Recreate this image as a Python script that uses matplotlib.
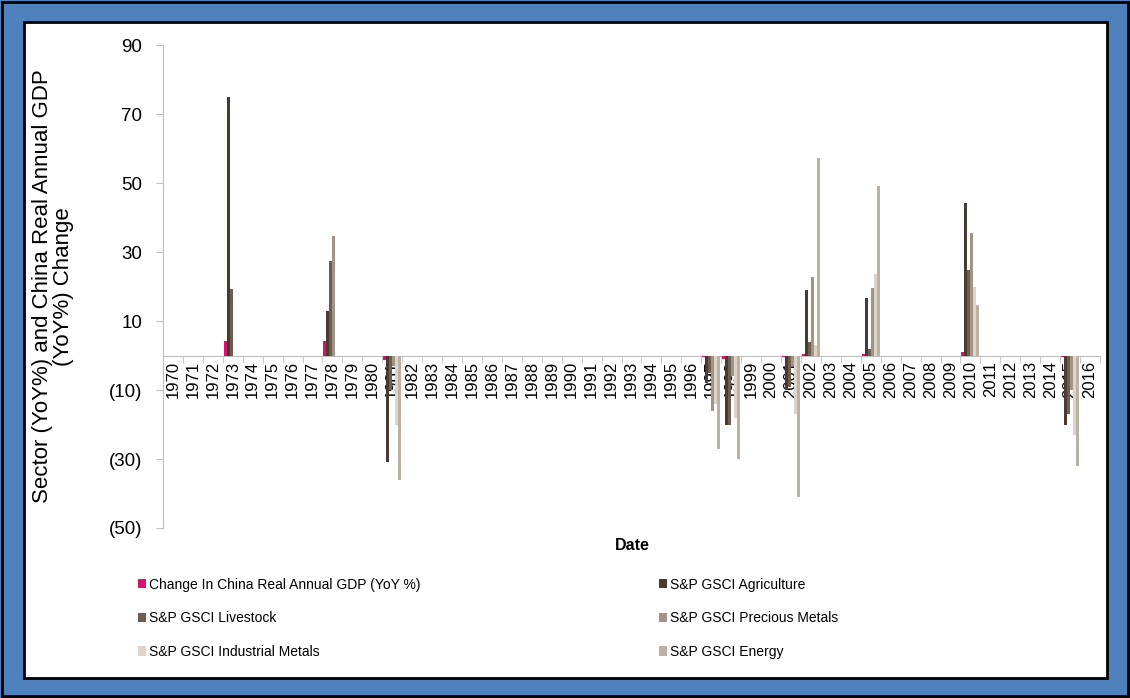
import numpy as np
import matplotlib
matplotlib.use('Agg')
import matplotlib.pyplot as plt
from matplotlib.patches import Rectangle, Patch

years = list(range(1970, 2017))
event_years = [1973, 1978, 1981, 1997, 1998, 2001, 2002, 2005, 2010, 2015]
gdp = [4.2, 4.2, -1.3, -0.5, -1.0, -0.3, 0.5, 0.5, 1.0, -0.5]
agriculture = [75, 13, -31, -8, -20, -10, 19, 16.7, 44.3, -20]
livestock = [19.3, 27.5, -10, -5, -20, -9, 4, 2, 24.8, -17]
precious = [0, 34.7, -3, -16, -6, -3, 22.8, 19.6, 35.6, -10]
industrial = [0, 0, -20, -14, -18, -17, 3, 23.6, 20, -23]
energy = [0, 0, -36, -27, -30, -41, 57.2, 49, 14.6, -32]

series = [
    ('Change In China Real Annual GDP (YoY %)', gdp, '#D6146F'),
    ('S&P GSCI Livestock', livestock, '#6F5E4F'),
    ('S&P GSCI Industrial Metals', industrial, '#DED5CA'),
    ('S&P GSCI Agriculture', agriculture, '#4A3B30'),
    ('S&P GSCI Precious Metals', precious, '#A09486'),
    ('S&P GSCI Energy', energy, '#BDB1A4'),
]
# drawing order within a group
order = [0, 3, 1, 4, 2, 5]

plt.rcParams['font.family'] = ['Liberation Sans', 'DejaVu Sans']

fig = plt.figure(figsize=(11.3, 6.98), dpi=100)
fig.patch.set_facecolor('#4F81BD')
fig.patches.append(Rectangle((0.002, 0.003), 0.996, 0.994, transform=fig.transFigure,
                             fill=False, edgecolor='black', linewidth=2, zorder=-2))
fig.patches.append(Rectangle((24 / 1130, 1 - 678 / 698), (1107 - 24) / 1130, (678 - 22) / 698,
                             transform=fig.transFigure, facecolor='white',
                             edgecolor='black', linewidth=2, zorder=-1))

ax = fig.add_axes([163 / 1130, 1 - 528 / 698, (1100 - 163) / 1130, (528 - 45) / 698])
ax.set_zorder(2)
ax.set_facecolor('none')

idx = np.array([years.index(y) for y in event_years])
w = 0.15
for k, i in enumerate(order):
    label, vals, color = series[i]
    ax.bar(idx - 0.45 + w * (k + 0.5), vals, width=w, color=color, zorder=3)

ax.set_xlim(-0.5, len(years) - 0.5)
ax.set_ylim(-50, 90)
ax.set_yticks(range(-50, 91, 20))
ax.set_yticklabels(['(%d)' % -v if v < 0 else str(v) for v in range(-50, 91, 20)], fontsize=13.5)

ax.spines['top'].set_visible(False)
ax.spines['right'].set_visible(False)
ax.spines['left'].set_color('#BFBFBF')
ax.spines['bottom'].set_position(('data', 0))
ax.spines['bottom'].set_color('#BFBFBF')
ax.tick_params(axis='y', colors='#BFBFBF', labelcolor='black', length=5, pad=10)

ax.set_xticks(range(len(years)))
ax.set_xticklabels([str(y) for y in years], rotation=90, fontsize=12)
ax.set_xticks(np.arange(-0.5, len(years), 1), minor=True)
ax.tick_params(axis='x', which='major', length=0, pad=4)
ax.tick_params(axis='x', which='minor', length=5, colors='#BFBFBF')

ax.set_ylabel('Sector (YoY%) and China Real Annual GDP\n(YoY%) Change', fontsize=16,
              labelpad=25, linespacing=1.0)
fig.text(632 / 1130, 1 - 545 / 698, 'Date', fontsize=11.5, fontweight='bold', ha='center', va='center')

handles = [Patch(facecolor=c, label=l) for l, v, c in series]
fig.legend(handles=handles, ncol=2, loc='upper left', bbox_to_anchor=(125 / 1130, 1 - 565 / 698),
           frameon=False, fontsize=10,
           handlelength=0.6, handleheight=0.65, handletextpad=0.2,
           columnspacing=17.2, labelspacing=1.42)

fig.savefig('out.png', dpi=100, facecolor=fig.get_facecolor())
